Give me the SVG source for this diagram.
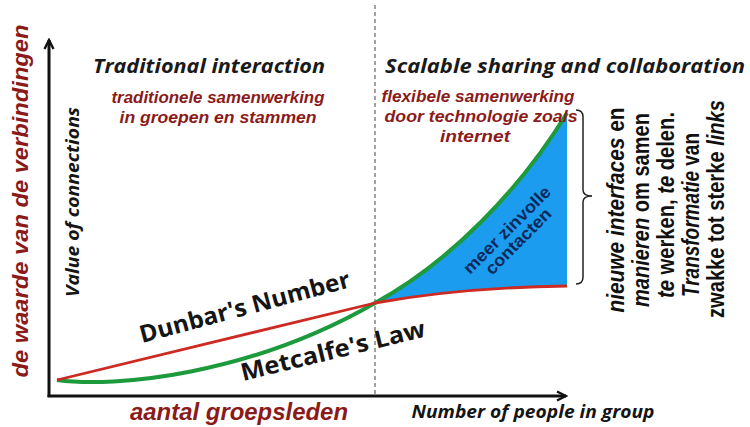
<svg xmlns="http://www.w3.org/2000/svg" width="750" height="427" viewBox="0 0 750 427">
<style>
.head{font-family:"Open Sans","Liberation Sans",sans-serif;font-weight:700;font-style:italic;fill:#1a1a1a;font-size:20px}
.red{font-family:"Liberation Sans",Arial,sans-serif;font-weight:700;font-style:italic;fill:#8b1a1a}
.lbl{font-family:"Open Sans","Liberation Sans",sans-serif;font-weight:700;fill:#151515}
.side{font-family:"Liberation Sans",Arial,sans-serif;font-weight:700;fill:#111;font-size:24px}
.navy{font-family:"Liberation Sans",Arial,sans-serif;font-weight:700;font-size:17px;fill:#0b2a5c}
.it{font-style:italic}
.axis{stroke:#111;stroke-width:3;fill:none}
</style>
<defs>
<marker id="ah" viewBox="0 0 12 12" refX="10" refY="6" markerWidth="12" markerHeight="12" orient="auto" markerUnits="userSpaceOnUse">
<path d="M1,1.5 L10,6 L1,10.5" fill="none" stroke="#111" stroke-width="2.4"/>
</marker>
</defs>
<rect width="750" height="427" fill="#fff"/>

<g id="axes">
<line x1="375" y1="5" x2="375" y2="396" stroke="#666" stroke-width="1.2" stroke-dasharray="4 3"/>
<path class="axis" d="M49,397 L49,40" marker-end="url(#ah)"/>
<path class="axis" d="M47.5,396 L566,396" marker-end="url(#ah)"/>
</g>

<g id="connectors">
<path id="fill-area" d="M375,303 C450,262 520,190 567,113 L567,286 C500,287 430,293 375,303 Z" fill="#1c9cee"/>
<path id="metcalfe-curve" d="M57,380 C115,388 250,375 375,303 C450,262 520,190 567,113" fill="none" stroke="#1d9a3c" stroke-width="4"/>
<path id="dunbar-curve" d="M57,380 L375,303 C430,293 500,287 567,286" fill="none" stroke="#cc2a22" stroke-width="2.8"/>
<path id="bracket" d="M576,110 Q583,110 583,117 L583,190 Q583,196 592,196 Q583,196 583,202 L583,277 Q583,284 576,284" fill="none" stroke="#222" stroke-width="1.5"/>
</g>

<g id="y-labels">
<text class="red" font-size="22" text-anchor="middle" transform="translate(28,201) rotate(-90)" textLength="353" lengthAdjust="spacingAndGlyphs">de waarde van de verbindingen</text>
<text class="lbl" font-size="18" font-style="italic" font-weight="600" text-anchor="middle" transform="translate(79,202) rotate(-90)" textLength="190" lengthAdjust="spacingAndGlyphs">Value of connections</text>
</g>

<g id="x-labels">
<text class="red" font-size="23" x="239" y="420" text-anchor="middle" textLength="218" lengthAdjust="spacingAndGlyphs">aantal groepsleden</text>
<text class="lbl" font-size="17" font-style="italic" x="533" y="418" text-anchor="middle" textLength="243" lengthAdjust="spacingAndGlyphs">Number of people in group</text>
</g>

<g id="traditional">
<text class="head" x="209" y="73" text-anchor="middle" textLength="232" lengthAdjust="spacingAndGlyphs">Traditional interaction</text>
<text class="red" font-size="17" x="218" y="103" text-anchor="middle" textLength="213" lengthAdjust="spacingAndGlyphs">traditionele samenwerking</text>
<text class="red" font-size="17" x="218" y="123" text-anchor="middle" textLength="197" lengthAdjust="spacingAndGlyphs">in groepen en stammen</text>
</g>

<g id="scalable">
<text class="head" x="565" y="73" text-anchor="middle" textLength="360" lengthAdjust="spacingAndGlyphs">Scalable sharing and collaboration</text>
<text class="red" font-size="17" x="478" y="102" text-anchor="middle" textLength="193" lengthAdjust="spacingAndGlyphs">flexibele samenwerking</text>
<text class="red" font-size="17" x="481" y="122" text-anchor="middle" textLength="193" lengthAdjust="spacingAndGlyphs">door technologie zoals</text>
<text class="red" font-size="17" x="475" y="142" text-anchor="middle" textLength="70" lengthAdjust="spacingAndGlyphs">internet</text>
</g>

<g id="dunbar">
<text class="lbl" font-size="24" x="142" y="343" transform="rotate(-15,142,343)" textLength="217" lengthAdjust="spacingAndGlyphs">Dunbar's Number</text>
</g>

<g id="metcalfe">
<text class="lbl" font-size="24" x="243" y="381" transform="rotate(-13.7,243,381)" textLength="189" lengthAdjust="spacingAndGlyphs">Metcalfe's Law</text>
</g>

<g id="meer-zinvolle" transform="translate(511,234) rotate(-45)">
<text class="navy" x="0" y="0" text-anchor="middle" textLength="116" lengthAdjust="spacingAndGlyphs">meer zinvolle</text>
<text class="navy" x="0" y="16" text-anchor="middle" textLength="86" lengthAdjust="spacingAndGlyphs">contacten</text>
</g>

<g id="side-note">
<text class="side" text-anchor="middle" transform="translate(624,210) rotate(-90)" textLength="205" lengthAdjust="spacingAndGlyphs"><tspan class="it">nieuwe interfaces</tspan> en</text>
<text class="side" text-anchor="middle" transform="translate(649,210) rotate(-90)" textLength="194" lengthAdjust="spacingAndGlyphs"><tspan class="it">manieren</tspan> om samen</text>
<text class="side" text-anchor="middle" transform="translate(674,205) rotate(-90)" textLength="186" lengthAdjust="spacingAndGlyphs"><tspan class="it">te</tspan> werken, <tspan class="it">te</tspan> delen.</text>
<text class="side" text-anchor="middle" transform="translate(699,215) rotate(-90)" textLength="164" lengthAdjust="spacingAndGlyphs"><tspan class="it">Transformatie</tspan> van</text>
<text class="side" text-anchor="middle" transform="translate(724,209) rotate(-90)" textLength="218" lengthAdjust="spacingAndGlyphs">zwakke tot sterke <tspan class="it">links</tspan></text>
</g>
</svg>
